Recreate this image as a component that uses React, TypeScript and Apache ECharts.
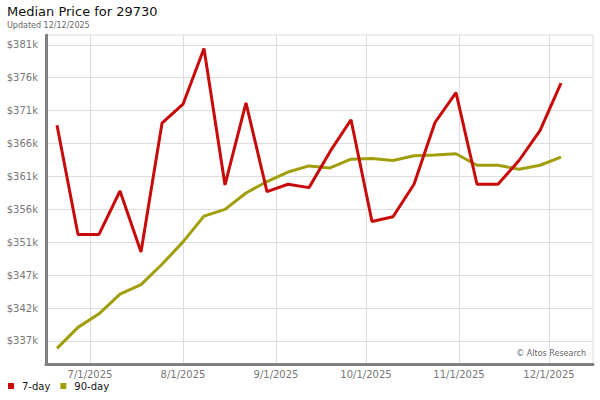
import { useEffect, useRef } from 'react';
import * as echarts from 'echarts';

const dates = [
  '2025-06-20', '2025-06-27', '2025-07-04', '2025-07-11', '2025-07-18',
  '2025-07-25', '2025-08-01', '2025-08-08', '2025-08-15', '2025-08-22',
  '2025-08-29', '2025-09-05', '2025-09-12', '2025-09-19', '2025-09-26',
  '2025-10-03', '2025-10-10', '2025-10-17', '2025-10-24', '2025-10-31',
  '2025-11-07', '2025-11-14', '2025-11-21', '2025-11-28', '2025-12-05',
];

const sevenDay = [
  368700, 352600, 352600, 359000, 350000, 369000, 371800, 380000, 359900, 372000,
  358900, 360000, 359500, 364800, 369500, 354500, 355200, 360000, 369100, 373500,
  360000, 360000, 363500, 367900, 374900,
];

const ninetyDay = [
  335800, 338900, 340900, 343800, 345200, 348200, 351500, 355300, 356300, 358700,
  360400, 361800, 362700, 362400, 363700, 363800, 363500, 364200, 364300, 364500,
  362800, 362800, 362200, 362800, 364000,
];

// the source chart puts its price ticks on odd values, not round thousands
const yTicks = [336900, 341750, 346600, 351450, 356300, 361150, 366000, 370850, 375700, 380550];
const xTicks = ['2025-07-01', '2025-08-01', '2025-09-01', '2025-10-01', '2025-11-01', '2025-12-01'];

const FONT = 'DejaVu Sans';
const RED = '#c80a0a';
const OLIVE = '#a09e0a';

const toTime = (s: string) => {
  const [y, m, d] = s.split('-').map(Number);
  return new Date(y, m - 1, d).getTime();
};

export default function App() {
  const elRef = useRef<HTMLDivElement | null>(null);

  useEffect(() => {
    if (!elRef.current) return;
    const chart = echarts.init(elRef.current, null, { renderer: 'svg' });
    const xTickTimes = xTicks.map(toTime);
    chart.setOption({
      animation: false,
      title: {
        text: 'Median Price for 29730',
        subtext: 'Updated 12/12/2025',
        left: 7,
        top: 5,
        padding: 0,
        itemGap: 3,
        textStyle: { fontFamily: FONT, fontSize: 13, fontWeight: 'normal', color: '#111' },
        subtextStyle: { fontFamily: FONT, fontSize: 8, color: '#666' },
      },
      legend: {
        left: 8,
        top: 381,
        padding: 0,
        icon: 'rect',
        itemWidth: 6,
        itemHeight: 6,
        itemGap: 10,
        textStyle: { fontFamily: FONT, fontSize: 10, color: '#111', padding: [0, 0, 0, 3] },
        data: ['7-day', '90-day'],
      },
      grid: {
        left: 46,
        right: 7,
        top: 35,
        bottom: 36,
        show: true,
        borderColor: '#dddddd',
        borderWidth: 1,
      },
      xAxis: {
        type: 'value',
        min: new Date(2025, 5, 16, 8).getTime(),
        max: new Date(2025, 11, 15, 16).getTime(),
        axisLine: { lineStyle: { color: '#808080', width: 3 } },
        axisTick: { show: false, customValues: xTickTimes },
        axisLabel: {
          customValues: xTickTimes,
          fontFamily: FONT,
          fontSize: 10,
          color: '#777',
          margin: 5,
          formatter: (v: number) => {
            const d = new Date(v);
            return `${d.getMonth() + 1}/${d.getDate()}/${d.getFullYear()}`;
          },
        },
        splitLine: { show: true, lineStyle: { color: '#dddddd', width: 1 } },
      },
      yAxis: {
        type: 'value',
        min: 333500,
        max: 382000,
        axisLine: { show: true, lineStyle: { color: '#808080', width: 3 } },
        axisTick: { show: false, customValues: yTicks },
        axisLabel: {
          customValues: yTicks,
          fontFamily: FONT,
          fontSize: 10,
          color: '#777',
          margin: 8,
          formatter: (v: number) => '$' + Math.round(v / 1000) + 'k',
        },
        splitLine: { show: true, lineStyle: { color: '#dddddd', width: 1 } },
      },
      graphic: [
        {
          type: 'text',
          right: 14,
          top: 349,
          style: { text: '© Altos Research', fontFamily: FONT, fontSize: 8, fill: '#666' },
        },
      ],
      series: [
        {
          name: '7-day',
          type: 'line',
          data: dates.map((d, i) => [toTime(d), sevenDay[i]]),
          showSymbol: false,
          lineStyle: { color: RED, width: 3 },
          itemStyle: { color: RED },
          z: 3,
        },
        {
          name: '90-day',
          type: 'line',
          data: dates.map((d, i) => [toTime(d), ninetyDay[i]]),
          showSymbol: false,
          lineStyle: { color: OLIVE, width: 3 },
          itemStyle: { color: OLIVE },
          z: 2,
        },
      ],
    });
    return () => chart.dispose();
  }, []);

  return (
    <div
      ref={elRef}
      style={{ position: 'fixed', left: 0, top: 0, width: 600, height: 400, background: '#fff' }}
    />
  );
}
